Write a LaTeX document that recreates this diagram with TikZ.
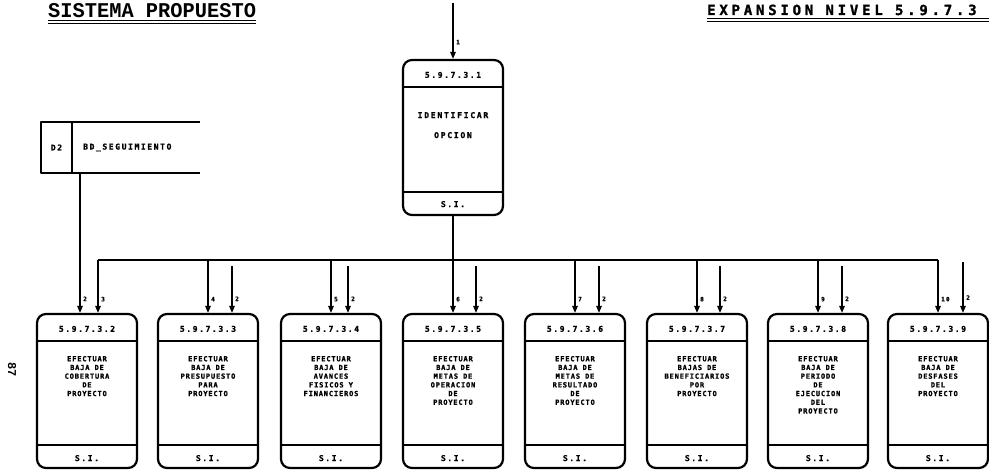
\documentclass[tikz,border=0pt]{standalone}
\usepackage{fontspec}
\usepackage{graphicx}
\usetikzlibrary{arrows.meta,positioning}
\newfontfamily\fnumfam[LetterSpace=20,FakeBold=1.2]{DejaVu Sans Mono}
\newfontfamily\fcpofam[LetterSpace=12,FakeBold=1.2]{DejaVu Sans Mono}
\newfontfamily\fopcfam[LetterSpace=22,FakeBold=1.2]{DejaVu Sans Mono}
\newfontfamily\ftitfam[LetterSpace=27,FakeBold=1.5]{DejaVu Sans Mono}
\newfontfamily\fmaqfam{Liberation Mono}

\tikzset{
  proc/.style={draw, line width=2.2pt, rounded corners=9pt, minimum width=100pt, minimum height=154pt,
    path picture={
      \draw[line width=1.3pt] ([yshift=-27pt]path picture bounding box.north west) -- ([yshift=-27pt]path picture bounding box.north east);
      \draw[line width=1.3pt] ([yshift=23pt]path picture bounding box.south west) -- ([yshift=23pt]path picture bounding box.south east);}},
  num/.style={font=\fnumfam\bfseries\fontsize{8}{9}\selectfont, inner sep=0pt},
  cpo/.style={font=\fcpofam\bfseries\fontsize{7}{8.7}\selectfont, align=center, inner sep=0pt, anchor=north},
  opc/.style={font=\fopcfam\bfseries\fontsize{8}{20}\selectfont, align=center, inner sep=0pt, anchor=north},
  etq/.style={font=\fnumfam\bfseries\fontsize{6}{7}\selectfont, anchor=west, inner sep=2.5pt},
  flecha/.style={line width=1.4pt, -{Triangle[length=7pt,width=5.5pt]}},
  linea/.style={line width=1.4pt},
  almacen/.style={line width=1.8pt},
  subr/.style={line width=1pt}
}

\begin{document}
\begin{tikzpicture}[x=1pt, y=-1pt, line join=round]
  \useasboundingbox (0,0) rectangle (989,470);

  % titulos
  \node[font=\fmaqfam\bfseries\fontsize{21}{21}\selectfont, anchor=base west, inner sep=0pt] (tit1) at (48,17.5) {\scalebox{0.97}[1]{SISTEMA PROPUESTO}};
  \draw[subr] ([yshift=-3pt]tit1.base west) -- ([yshift=-3pt]tit1.base east);
  \draw[subr] ([yshift=-6pt]tit1.base west) -- ([yshift=-6pt]tit1.base east);
  \node[font=\ftitfam\bfseries\fontsize{14}{14}\selectfont, anchor=base west, inner sep=0pt] (tit2) at (707,15) {EXPANSION NIVEL 5.9.7.3};
  \draw[subr] ([yshift=-4pt]tit2.base west) -- (989,19);
  \draw[subr] ([yshift=-7pt]tit2.base west) -- (989,22);
  \node[font=\fmaqfam\bfseries\fontsize{12}{12}\selectfont, rotate=-90, inner sep=0pt] (pag) at (12,370) {87};

  % almacen D2
  \node[num, minimum width=31pt, minimum height=51pt] (d2) at (56.5,147.5) {D2};
  \node[num, anchor=west] (bd) at (83,147.5) {BD\_SEGUIMIENTO};
  \draw[almacen] ([xshift=128pt]d2.north east) -- (d2.north west) -- (d2.south west) -- ([xshift=128pt]d2.south east);
  \draw[almacen] (d2.north east) -- (d2.south east);

  % proceso superior
  \node[proc, minimum height=155pt] (p1) at (453,137.5) {};
  \node[num] (n1) at ([yshift=-16pt]p1.north) {5.9.7.3.1};
  \node[opc] (c1) at ([yshift=-53pt]p1.north) {IDENTIFICAR\\OPCION};
  \node[num] (s1) at ([yshift=12pt]p1.south) {S.I.};

  % procesos inferiores
  \node[proc] (p2) at (87,391) {};
  \node[num] (n2) at ([yshift=-16pt]p2.north) {5.9.7.3.2};
  \node[cpo] (c2) at ([yshift=-43pt]p2.north) {EFECTUAR\\BAJA DE\\COBERTURA\\DE\\PROYECTO};
  \node[num] (s2) at ([yshift=11pt]p2.south) {S.I.};

  \node[proc] (p3) at (208,391) {};
  \node[num] (n3) at ([yshift=-16pt]p3.north) {5.9.7.3.3};
  \node[cpo] (c3) at ([yshift=-43pt]p3.north) {EFECTUAR\\BAJA DE\\PRESUPUESTO\\PARA\\PROYECTO};
  \node[num] (s3) at ([yshift=11pt]p3.south) {S.I.};

  \node[proc] (p4) at (331,391) {};
  \node[num] (n4) at ([yshift=-16pt]p4.north) {5.9.7.3.4};
  \node[cpo] (c4) at ([yshift=-43pt]p4.north) {EFECTUAR\\BAJA DE\\AVANCES\\FISICOS Y\\FINANCIEROS};
  \node[num] (s4) at ([yshift=11pt]p4.south) {S.I.};

  \node[proc] (p5) at (453,391) {};
  \node[num] (n5) at ([yshift=-16pt]p5.north) {5.9.7.3.5};
  \node[cpo] (c5) at ([yshift=-43pt]p5.north) {EFECTUAR\\BAJA DE\\METAS DE\\OPERACION\\DE\\PROYECTO};
  \node[num] (s5) at ([yshift=11pt]p5.south) {S.I.};

  \node[proc] (p6) at (575,391) {};
  \node[num] (n6) at ([yshift=-16pt]p6.north) {5.9.7.3.6};
  \node[cpo] (c6) at ([yshift=-43pt]p6.north) {EFECTUAR\\BAJA DE\\METAS DE\\RESULTADO\\DE\\PROYECTO};
  \node[num] (s6) at ([yshift=11pt]p6.south) {S.I.};

  \node[proc] (p7) at (697,391) {};
  \node[num] (n7) at ([yshift=-16pt]p7.north) {5.9.7.3.7};
  \node[cpo] (c7) at ([yshift=-43pt]p7.north) {EFECTUAR\\BAJAS DE\\BENEFICIARIOS\\POR\\PROYECTO};
  \node[num] (s7) at ([yshift=11pt]p7.south) {S.I.};

  \node[proc] (p8) at (818,391) {};
  \node[num] (n8) at ([yshift=-16pt]p8.north) {5.9.7.3.8};
  \node[cpo] (c8) at ([yshift=-43pt]p8.north) {EFECTUAR\\BAJA DE\\PERIODO\\DE\\EJECUCION\\DEL\\PROYECTO};
  \node[num] (s8) at ([yshift=11pt]p8.south) {S.I.};

  \node[proc] (p9) at (938,391) {};
  \node[num] (n9) at ([yshift=-16pt]p9.north) {5.9.7.3.9};
  \node[cpo] (c9) at ([yshift=-43pt]p9.north) {EFECTUAR\\BAJA DE\\DESFASES\\DEL\\PROYECTO};
  \node[num] (s9) at ([yshift=11pt]p9.south) {S.I.};

  % flujos
  \coordinate (e1) at (453,3);
  \coordinate (bus) at (0,260);
  \draw[flecha] (e1) -- (p1.north) node[etq, pos=0.7] {1};
  \draw[linea] (p1.south) -- (p1.south |- bus);
  \draw[linea] ([xshift=11pt]p2.north |- bus) -- (p9.north |- bus);

  \draw[flecha] ([xshift=-7pt]p2.north |- d2.south) -- ([xshift=-7pt]p2.north) node[etq, pos=0.9] {2};
  \draw[flecha] ([xshift=11pt]p2.north |- bus) -- ([xshift=11pt]p2.north) node[etq, pos=0.74] {3};

  \draw[flecha] (p3.north |- bus) -- (p3.north) node[etq, pos=0.74] {4};
  \draw[flecha] (p4.north |- bus) -- (p4.north) node[etq, pos=0.74] {5};
  \draw[flecha] (p5.north |- bus) -- (p5.north) node[etq, pos=0.74] {6};
  \draw[flecha] (p6.north |- bus) -- (p6.north) node[etq, pos=0.74] {7};
  \draw[flecha] (p7.north |- bus) -- (p7.north) node[etq, pos=0.74] {8};
  \draw[flecha] (p8.north |- bus) -- (p8.north) node[etq, pos=0.74] {9};
  \draw[flecha] (p9.north |- bus) -- (p9.north) node[etq, pos=0.74] {10};

  \draw[flecha] ([shift={(24pt,47pt)}]p3.north) -- ([xshift=24pt]p3.north) node[etq, pos=0.7] {2};
  \draw[flecha] ([shift={(17pt,47pt)}]p4.north) -- ([xshift=17pt]p4.north) node[etq, pos=0.7] {2};
  \draw[flecha] ([shift={(23pt,47pt)}]p5.north) -- ([xshift=23pt]p5.north) node[etq, pos=0.7] {2};
  \draw[flecha] ([shift={(24pt,47pt)}]p6.north) -- ([xshift=24pt]p6.north) node[etq, pos=0.7] {2};
  \draw[flecha] ([shift={(23pt,47pt)}]p7.north) -- ([xshift=23pt]p7.north) node[etq, pos=0.7] {2};
  \draw[flecha] ([shift={(24pt,47pt)}]p8.north) -- ([xshift=24pt]p8.north) node[etq, pos=0.7] {2};
  \draw[flecha] ([shift={(25pt,51pt)}]p9.north) -- ([xshift=25pt]p9.north) node[etq, pos=0.7] {2};
\end{tikzpicture}
\end{document}
